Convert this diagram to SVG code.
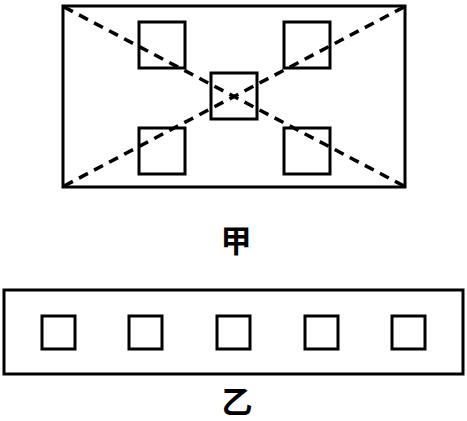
<svg xmlns="http://www.w3.org/2000/svg" width="467" height="421" viewBox="0 0 467 421">
<style>
.box{fill:none;stroke:#000;stroke-width:3}
.dash{fill:none;stroke:#000;stroke-width:3.5;stroke-dasharray:10 7}
.lbl{font-family:"Noto Sans CJK SC",sans-serif;font-size:31px;font-weight:bold;text-anchor:middle;fill:#000}
</style>
<rect width="467" height="421" fill="#fff"/>
<g id="jia">
<rect class="box" x="63" y="6" width="342" height="181"/>
<g id="connectors">
<line class="dash" x1="64" y1="7" x2="404" y2="186"/>
<line class="dash" x1="64" y1="186" x2="404" y2="7"/>
</g>
<rect id="sq-tl" class="box" x="139" y="22" width="46" height="46"/>
<rect id="sq-tr" class="box" x="284" y="22" width="46" height="46"/>
<rect id="sq-c" class="box" x="211" y="73" width="46" height="46"/>
<rect id="sq-bl" class="box" x="139" y="128" width="46" height="46"/>
<rect id="sq-br" class="box" x="284" y="128" width="46" height="46"/>
<text class="lbl" x="236" y="252">甲</text>
</g>
<g id="yi">
<rect class="box" x="4" y="290" width="459" height="84"/>
<rect class="box" x="42" y="316" width="33" height="33"/>
<rect class="box" x="129" y="316" width="33" height="33"/>
<rect class="box" x="217" y="316" width="33" height="33"/>
<rect class="box" x="305" y="316" width="33" height="33"/>
<rect class="box" x="392" y="316" width="33" height="33"/>
<text class="lbl" x="237" y="413">乙</text>
</g>
</svg>
